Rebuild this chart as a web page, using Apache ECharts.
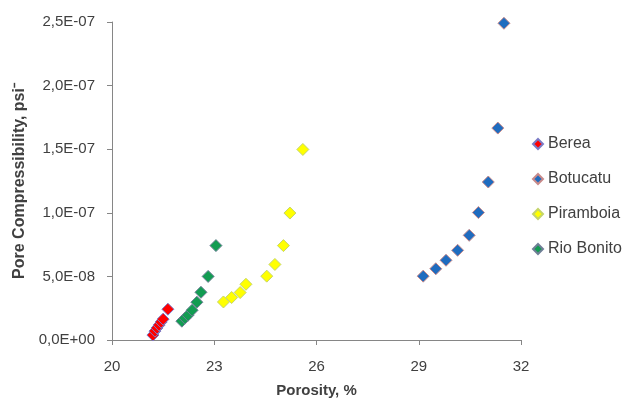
<!DOCTYPE html>
<html>
<head>
<meta charset="utf-8">
<script src="https://cdn.jsdelivr.net/npm/echarts@6/dist/echarts.min.js"></script>
<style>
  html, body { margin: 0; padding: 0; background: #fff; }
  #chart { width: 623px; height: 403px; }
</style>
</head>
<body>
<div id="chart"></div>
<script>
// porosity (%) and pore compressibility (1/psi) per rock
const bereaX = [21.2, 21.26, 21.32, 21.38, 21.44, 21.5, 21.64];
const bereaY = [0.39e-8, 0.7e-8, 0.94e-8, 1.17e-8, 1.41e-8, 1.64e-8, 2.42e-8];

const botucatuX = [29.13, 29.5, 29.8, 30.14, 30.48, 30.75, 31.04, 31.32, 31.5];
const botucatuY = [5.02e-8, 5.6e-8, 6.27e-8, 7.05e-8, 8.23e-8, 10.02e-8, 12.42e-8, 16.66e-8, 24.9e-8];

const piramboiaX = [23.27, 23.51, 23.76, 23.93, 24.54, 24.78, 25.03, 25.22, 25.6];
const piramboiaY = [2.99e-8, 3.34e-8, 3.73e-8, 4.38e-8, 5.02e-8, 5.94e-8, 7.42e-8, 9.98e-8, 14.98e-8];

const rioBonitoX = [22.05, 22.14, 22.23, 22.35, 22.49, 22.61, 22.82, 23.05];
const rioBonitoY = [1.48e-8, 1.72e-8, 1.95e-8, 2.34e-8, 2.97e-8, 3.75e-8, 5.0e-8, 7.42e-8];

const xTicks = [20, 23, 26, 29, 32];

const chart = echarts.init(document.getElementById('chart'));

function pairs(xs, ys) {
  return xs.map((x, i) => [x, ys[i]]);
}

// excel style: 2,5E-07
function sci(v) {
  if (v === 0) return '0,0E+00';
  const s = v.toExponential(1).split('e');
  let exp = parseInt(s[1], 10);
  const sign = exp < 0 ? '-' : '+';
  exp = Math.abs(exp);
  return s[0].replace('.', ',') + 'E' + sign + (exp < 10 ? '0' + exp : exp);
}

const font = 'Liberation Sans';
const textColor = '#404040';

function makeSeries(name, xs, ys, fill, border) {
  return {
    name: name,
    type: 'scatter',
    symbol: 'diamond',
    symbolSize: 12,
    itemStyle: { color: fill, borderColor: border, borderWidth: 1, opacity: 1 },
    data: pairs(xs, ys)
  };
}

const option = {
  animation: false,
  textStyle: { fontFamily: font },
  grid: { left: 112, right: 102, top: 22, bottom: 62 },
  legend: {
    orient: 'vertical',
    left: 527,
    top: 131,
    itemWidth: 10,
    itemHeight: 10,
    itemGap: 19,
    textStyle: { fontFamily: font, fontSize: 16, color: textColor },
    data: ['Berea', 'Botucatu', 'Piramboia', 'Rio Bonito']
  },
  xAxis: {
    type: 'value',
    min: xTicks[0],
    max: xTicks[xTicks.length - 1],
    interval: 3,
    name: 'Porosity, %',
    nameLocation: 'middle',
    nameGap: 43,
    nameTextStyle: { fontFamily: font, fontSize: 15, fontWeight: 'bold', color: textColor },
    axisLine: { lineStyle: { color: '#868686' } },
    axisTick: { lineStyle: { color: '#868686' }, length: 5 },
    axisLabel: { fontFamily: font, fontSize: 15, color: textColor, margin: 19 },
    splitLine: { show: false }
  },
  yAxis: {
    type: 'value',
    min: 0,
    max: 2.5e-7,
    interval: 5e-8,
    name: 'Pore Compressibility, psi⁻',
    nameLocation: 'middle',
    nameGap: 84,
    nameTextStyle: { fontFamily: font, fontSize: 16, fontWeight: 'bold', color: textColor },
    axisLine: { show: true, lineStyle: { color: '#868686' } },
    axisTick: { show: true, lineStyle: { color: '#868686' }, length: 5 },
    axisLabel: { fontFamily: font, fontSize: 15, color: textColor, margin: 17, formatter: sci },
    splitLine: { show: false }
  },
  series: [
    makeSeries('Berea', bereaX, bereaY, '#ff0000', '#7b7bc6'),
    makeSeries('Botucatu', botucatuX, botucatuY, '#1f6cbf', '#c88a8a'),
    makeSeries('Piramboia', piramboiaX, piramboiaY, '#ffff00', '#c4d46a'),
    makeSeries('Rio Bonito', rioBonitoX, rioBonitoY, '#129c52', '#6f7f96')
  ]
};

chart.setOption(option);
</script>
</body>
</html>
